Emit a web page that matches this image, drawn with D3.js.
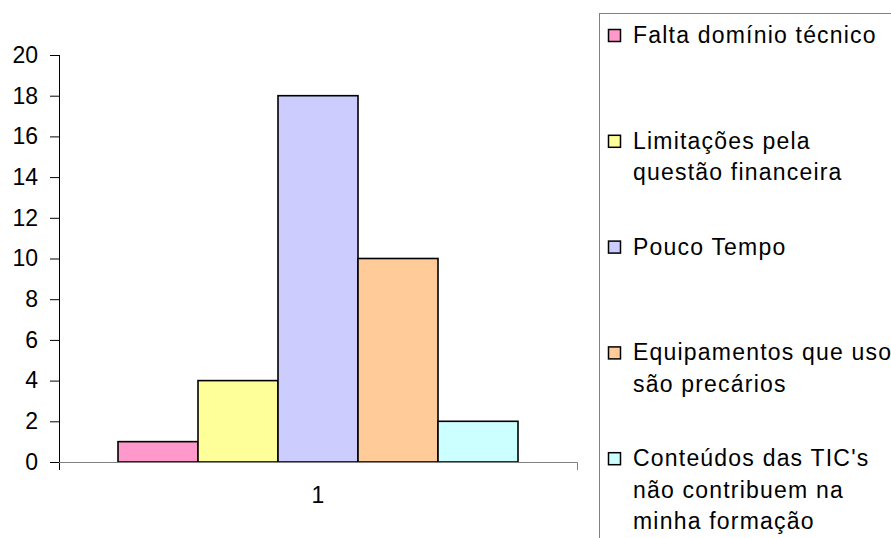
<!DOCTYPE html>
<html>
<head>
<meta charset="utf-8">
<script src="https://cdn.jsdelivr.net/npm/d3@7/dist/d3.min.js"></script>
<style>
  html, body { margin: 0; padding: 0; background: #fff; overflow: hidden; }
  text { font-family: "Liberation Sans", Arial, sans-serif; fill: #000; }
</style>
</head>
<body>
<script>
    var categories = ["1"];
    var seriesNames = [
        "Falta domínio técnico",
        "Limitações pela\nquestão financeira",
        "Pouco Tempo",
        "Equipamentos que uso\nsão precários",
        "Conteúdos das TIC's\nnão contribuem na\nminha formação"
    ];
    var seriesValues = [1, 4, 18, 10, 2];
    var seriesColors = ["#FF99CC", "#FFFF99", "#CCCCFF", "#FFCC99", "#CCFFFF"];
    var yTicks = [0, 2, 4, 6, 8, 10, 12, 14, 16, 18, 20];

    var width = 891, height = 538;
    var plot = { left: 59, right: 577, top: 55, bottom: 462 };

    var svg = d3.select("body")
        .append("svg")
        .attr("width", width)
        .attr("height", height);

    var y = d3.scaleLinear()
        .domain([0, 20])
        .range([plot.bottom, plot.top]);

    var x0 = d3.scaleBand()
        .domain(categories)
        .range([plot.left, plot.right]);

    var x1 = d3.scaleBand()
        .domain(d3.range(seriesNames.length))
        .range([0, x0.bandwidth()])
        .paddingInner(0)
        .paddingOuter(0.7375);

    // bars
    var groups = svg.selectAll("g.cat")
        .data(categories)
        .enter()
        .append("g")
        .attr("class", "cat")
        .attr("transform", function(d) { return "translate(" + x0(d) + ",0)"; });

    groups.selectAll("rect")
        .data(function() { return seriesValues.map(function(v, i) { return { i: i, v: v }; }); })
        .enter()
        .append("rect")
        .attr("x", function(d) { return x1(d.i); })
        .attr("y", function(d) { return y(d.v); })
        .attr("width", x1.bandwidth())
        .attr("height", function(d) { return y(0) - y(d.v); })
        .style("fill", function(d) { return seriesColors[d.i]; })
        .style("stroke", "#000")
        .style("stroke-width", 1.6);

    // y axis
    var yAxis = svg.append("g")
        .attr("transform", "translate(" + plot.left + ",0)")
        .call(d3.axisLeft(y).tickValues(yTicks).tickSize(9).tickSizeOuter(0).tickPadding(12));
    yAxis.select(".domain").attr("stroke", "#000").attr("d", "M0.5," + plot.top + "V" + (plot.bottom + 8));
    yAxis.selectAll(".tick line").attr("stroke", "#000");
    yAxis.selectAll("text")
        .style("font-size", "23px")
        .style("font-family", "'Liberation Sans', Arial, sans-serif");

    // x axis
    var xAxis = svg.append("g")
        .attr("transform", "translate(0," + plot.bottom + ")")
        .call(d3.axisBottom(x0).tickSize(0).tickPadding(25));
    xAxis.select(".domain").attr("stroke", "#808080")
        .attr("d", "M" + plot.left + ",0.5H" + (plot.right + 0.5) + "V8");
    xAxis.selectAll("text")
        .style("font-size", "23px")
        .style("font-family", "'Liberation Sans', Arial, sans-serif");

    // legend
    var legend = svg.append("g");
    legend.append("rect")
        .attr("x", 599.5)
        .attr("y", 13.5)
        .attr("width", 400)
        .attr("height", 600)
        .style("fill", "none")
        .style("stroke", "#808080")
        .style("stroke-width", 1);

    var entryStep = 105.8, lineStep = 31.5;
    var items = legend.selectAll("g.item")
        .data(seriesNames)
        .enter()
        .append("g")
        .attr("class", "item")
        .attr("transform", function(d, i) { return "translate(0," + (35 + i * entryStep) + ")"; });

    items.append("rect")
        .attr("x", 608.5)
        .attr("y", -5.5)
        .attr("width", 12)
        .attr("height", 12)
        .style("fill", function(d, i) { return seriesColors[i]; })
        .style("stroke", "#000")
        .style("stroke-width", 1.5);

    items.append("text")
        .attr("x", 633)
        .style("font-size", "23px")
        .style("letter-spacing", "1.2px")
        .selectAll("tspan")
        .data(function(d) { return d.split("\n"); })
        .enter()
        .append("tspan")
        .attr("x", 633)
        .attr("y", function(d, j) { return j * lineStep; })
        .attr("dy", "0.35em")
        .text(function(d) { return d; });
</script>
</body>
</html>
